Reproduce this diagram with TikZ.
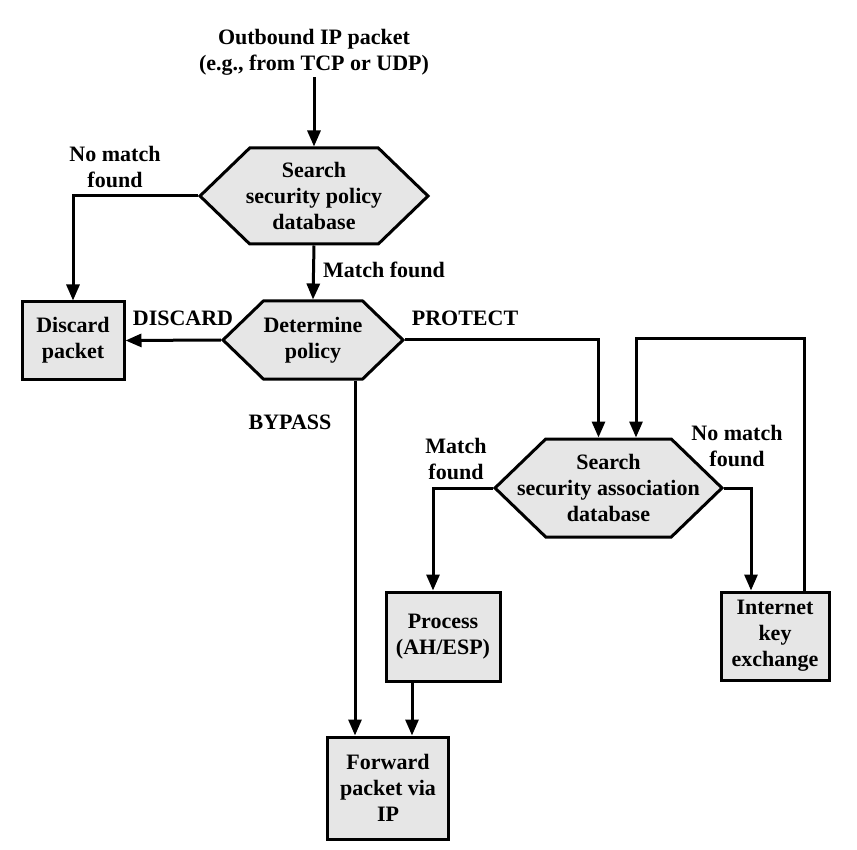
\documentclass[tikz,border=0pt]{standalone}
\usepackage{fontspec}
\setmainfont{Liberation Serif}
\usetikzlibrary{shapes.symbols,arrows.meta}
\definecolor{boxgray}{HTML}{E6E6E6}
\tikzset{
    every node/.style={font=\fontsize{22}{26}\selectfont\bfseries},
    hexa/.style={draw,line width=3pt,fill=boxgray,shape=signal,signal to=east and west,
        signal pointer angle=88,inner sep=0pt},
    sqbox/.style={draw,line width=3pt,fill=boxgray,align=center,inner sep=0pt},
    lbl/.style={align=center,inner sep=2pt},
    flow/.style={line width=3pt,-{Triangle[length=16pt,width=13pt]}}
}
\begin{document}
\begin{tikzpicture}[x=1pt,y=-1pt]
        \useasboundingbox (0,0) rectangle (857,850);

        \node [lbl](src)at(314,52){Outbound IP packet\\(e.g., from TCP or UDP)};
        \node [hexa,minimum width=228pt,minimum height=96pt,
            label={[lbl]center:Search\\security policy\\database}](spd)at(314,196){};
        \node [hexa,minimum width=180pt,minimum height=78pt,
            label={[lbl]center:Determine\\policy}](det)at(313,340){};
        \node [sqbox,minimum width=102pt,minimum height=77pt](discard)at(73,340.5){Discard\\packet};
        \node [hexa,minimum width=227pt,minimum height=98pt,
            label={[lbl]center:Search\\security association\\database}](sad)at(608.5,488){};
        \node [sqbox,minimum width=114pt,minimum height=89pt](proc)at(443,636.5){Process\\(AH/ESP)};
        \node [sqbox,minimum width=108pt,minimum height=88pt](ike)at(775,636){Internet\\key\\exchange};
        \node [sqbox,minimum width=121pt,minimum height=102pt](fwd)at(388,788){Forward\\packet via\\IP};

        \node [lbl](nomatch1)at(115,167){No match\\found};
        \node [lbl,anchor=west](match1)at(321,270){Match found};
        \node [lbl](discardlbl)at(183,318){DISCARD};
        \node [lbl](protectlbl)at(465,318){PROTECT};
        \node [lbl](bypasslbl)at(290,422){BYPASS};
        \node [lbl](match2)at(456,459){Match\\found};
        \node [lbl](nomatch2)at(737,446){No match\\found};

        \coordinate (loop) at (804,339);

        \draw [flow] (src.south) -- (spd.north);
        \draw [flow] (spd.west) -| (discard.north);
        \draw [flow] (spd.south) -- (det.north);
        \draw [flow] (det.west) -- (discard.east);
        \draw [flow] (det.east) -| ([xshift=-10pt]sad.north);
        \draw [flow] ([xshift=42pt]det.south) -- ([xshift=-33pt]fwd.north);
        \draw [flow] (sad.west) -| ([xshift=-10pt]proc.north);
        \draw [flow] (sad.east) -| ([xshift=-24pt]ike.north);
        \draw [flow] ([xshift=-31pt]proc.south) -- ([xshift=24pt]fwd.north);
        \draw [flow] ([xshift=29pt]ike.north) |- (loop) -| ([xshift=27.5pt]sad.north);
    \end{tikzpicture}
\end{document}
